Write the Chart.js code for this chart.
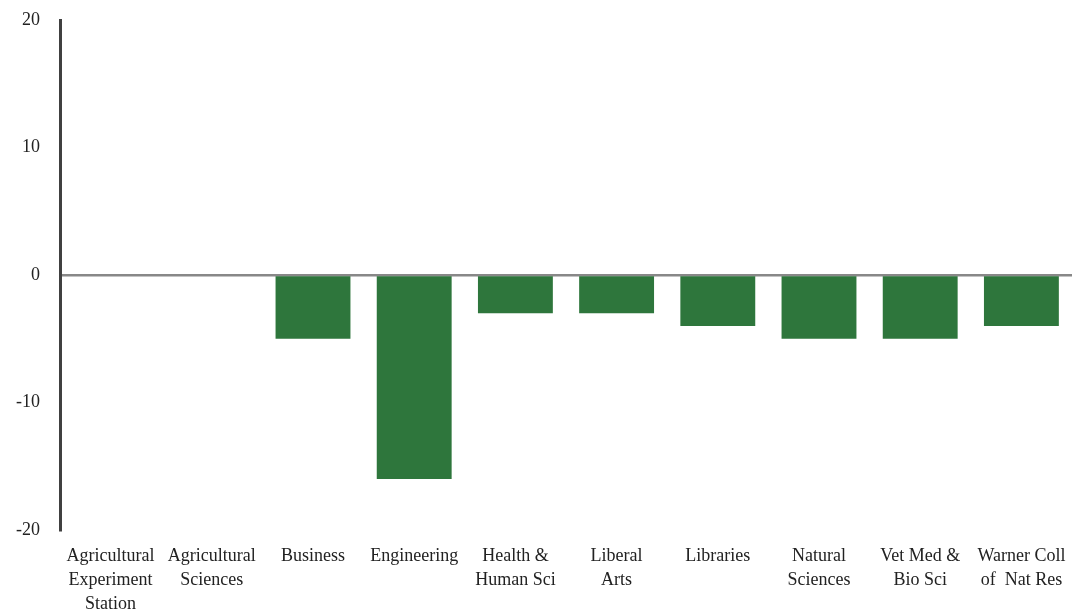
<!DOCTYPE html>
<html><head><meta charset="utf-8">
<script src="https://cdn.jsdelivr.net/npm/chart.js@4"></script>
<style>html,body{margin:0;padding:0;background:#fff}#wrap{width:1074px;height:611px}</style>
</head><body><div id="wrap"><canvas id="c" width="1074" height="611"></canvas></div>
<script>
const categories = [
  ["Agricultural","Experiment","Station"],
  ["Agricultural","Sciences"],
  ["Business"],
  ["Engineering"],
  ["Health &","Human Sci"],
  ["Liberal","Arts"],
  ["Libraries"],
  ["Natural","Sciences"],
  ["Vet Med &","Bio Sci"],
  ["Warner Coll","of  Nat Res"]
];
const values = [0, 0, -5, -16, -3, -3, -4, -5, -5, -4];
const yTicks = [-20, -10, 0, 10, 20];

const font = {family: "'Liberation Serif', 'DejaVu Serif', serif", size: 18, lineHeight: 1.33};
new Chart(document.getElementById('c'), {
  type: 'bar',
  data: {labels: categories, datasets: [{data: values, backgroundColor: '#2E763C', barPercentage: 0.74, categoryPercentage: 1}]},
  options: {
    responsive: false, animation: false,
    layout: {padding: {top: 20, right: 2, left: 0, bottom: 0}},
    plugins: {legend: {display: false}, tooltip: {enabled: false}},
    scales: {
      x: {
        grid: {display: false}, border: {display: false},
        ticks: {font: font, color: '#222', maxRotation: 0, autoSkip: false, padding: 6},
        afterFit: s => { s.height = 81; s.paddingLeft = 0; s.paddingRight = 0; }
      },
      y: {
        min: -20, max: 20, z: 1,
        afterBuildTicks: s => { s.ticks = yTicks.map(v => ({value: v})); },
        grid: {color: c => c.tick && c.tick.value === 0 ? '#888888' : 'rgba(0,0,0,0)', lineWidth: 2.5, drawTicks: false},
        border: {color: '#404040', width: 3},
        ticks: {font: font, color: '#222', padding: 20},
        afterFit: s => { s.width = 60; s.paddingTop = 0; s.paddingBottom = 0; }
      }
    }
  }
});
</script></body></html>
